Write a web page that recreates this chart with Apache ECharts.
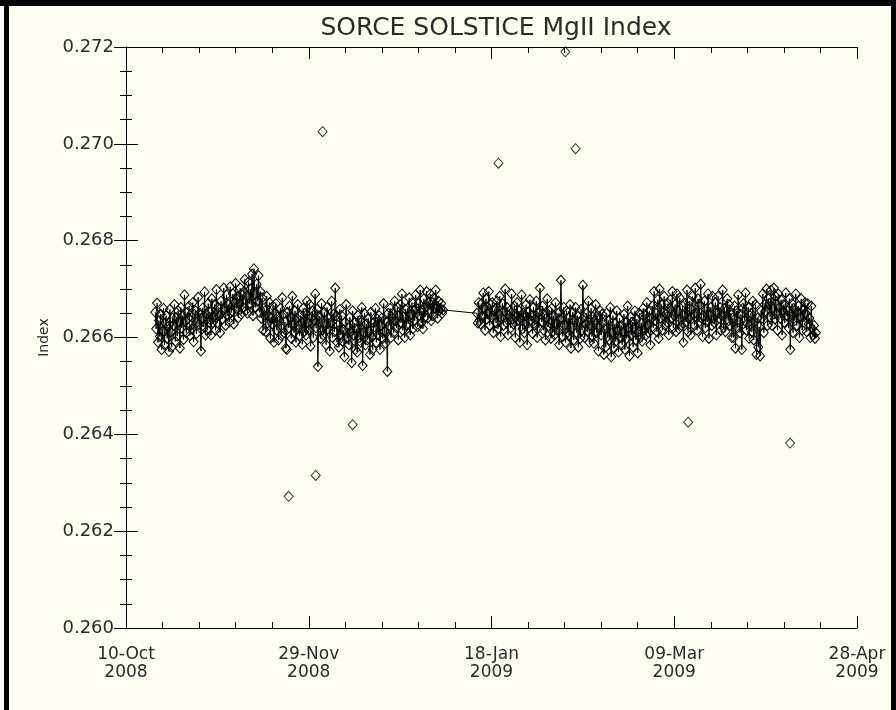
<!DOCTYPE html>
<html><head><meta charset="utf-8">
<script src="https://cdn.jsdelivr.net/npm/echarts@6/dist/echarts.min.js"></script>
<style>html,body{margin:0;padding:0;background:#fff}#c{width:896px;height:710px}</style>
</head><body><div id="c"></div>
<script>
// x axis: days since 10-Oct-2008
const tickDays = [0, 50, 100, 150, 200];
const tickLabels = ['10-Oct\n2008', '29-Nov\n2008', '18-Jan\n2009', '09-Mar\n2009', '28-Apr\n2009'];
const perDay = 4;
// Segment A: 18-Oct-2008 (day 8) .. 04-Jan-2009 (day 86), 4 readings per day
const segAStart = 8;
const segA = [
.26652,.26618,.26671,.26590, .26635,.26602,.26648,.26575, .26612,.26660,.26585,.26630, .26645,.26598,.26622,.26571, .26658,.26612,.26580,.26640,
.26625,.26668,.26592,.26641, .26603,.26655,.26632,.26578, .26662,.26620,.26645,.26596, .26688,.26634,.26610,.26652, .26640,.26665,.26604,.26625,
.26618,.26672,.26591,.26648, .26655,.26608,.26632,.26683, .26627,.26650,.26572,.26640, .26661,.26622,.26694,.26605, .26648,.26615,.26670,.26632,
.26652,.26605,.26680,.26631, .26642,.26668,.26615,.26699, .26630,.26662,.26645,.26610, .26675,.26638,.26657,.26702, .26660,.26625,.26688,.26645,
.26668,.26632,.26705,.26651, .26655,.26690,.26628,.26672, .26712,.26660,.26684,.26641, .26670,.26702,.26648,.26688, .26662,.26695,.26720,.26655,
.26685,.26650,.26715,.26670, .26700,.26668,.26731,.26645, .26742,.26690,.26662,.26710, .26675,.26728,.26652,.26695, .26640,.26682,.26615,.26660,
.26655,.26612,.26685,.26630, .26645,.26672,.26598,.26640, .26628,.26665,.26590,.26650, .26670,.26615,.26642,.26595, .26635,.26660,.26604,.26682,
.26648,.26610,.26632,.26578, .26575,.26652,.26620,.26665, .26642,.26598,.26685,.26625, .26610,.26655,.26590,.26640, .26668,.26625,.26604,.26645,
.26632,.26586,.26660,.26612, .26650,.26605,.26675,.26630, .26615,.26668,.26582,.26642, .26655,.26600,.26635,.26690, .26620,.26658,.26540,.26645,
.26640,.26598,.26670,.26615, .26605,.26652,.26625,.26585, .26662,.26618,.26640,.26572, .26630,.26675,.26600,.26648, .26612,.26702,.26645,.26590,
.26625,.26580,.26658,.26605, .26645,.26592,.26615,.26560, .26632,.26668,.26598,.26620, .26585,.26642,.26612,.26548, .26655,.26605,.26630,.26575,
.26618,.26570,.26645,.26600, .26635,.26590,.26662,.26542, .26610,.26650,.26585,.26628, .26595,.26640,.26612,.26565, .26652,.26602,.26575,.26630,
.26622,.26660,.26590,.26638, .26605,.26645,.26575,.26625, .26640,.26598,.26670,.26612, .26588,.26632,.26530,.26650, .26625,.26660,.26600,.26642,
.26650,.26610,.26675,.26635, .26620,.26662,.26595,.26645, .26668,.26630,.26690,.26615, .26642,.26600,.26658,.26625, .26660,.26628,.26682,.26605,
.26648,.26672,.26618,.26655, .26635,.26688,.26660,.26622, .26670,.26645,.26698,.26630, .26655,.26618,.26680,.26642, .26662,.26695,.26640,.26672,
.26658,.26690,.26635,.26672, .26645,.26682,.26660,.26698, .26665,.26640,.26675,.26655, .26660,.26670,.26650,.26657
];
// Segment B: 14-Jan-2009 (day 96) .. 16-Apr-2009 (day 188)
const segBStart = 96;
const segB = [
.26650,.26630,.26672,.26635, .26628,.26670,.26645,.26692, .26660,.26615,.26680,.26638, .26650,.26695,.26625,.26668, .26642,.26672,.26610,.26655,
.26660,.26630,.26675,.26618, .26648,.26685,.26602,.26640, .26670,.26625,.26655,.26700, .26632,.26662,.26605,.26645, .26655,.26620,.26690,.26638,
.26628,.26665,.26600,.26642, .26672,.26635,.26655,.26590, .26640,.26688,.26618,.26650, .26610,.26645,.26668,.26585, .26652,.26620,.26678,.26635,
.26645,.26608,.26662,.26625, .26638,.26675,.26600,.26650, .26620,.26702,.26655,.26632, .26665,.26615,.26648,.26595, .26640,.26680,.26622,.26655,
.26630,.26598,.26660,.26612, .26645,.26605,.26672,.26628, .26615,.26650,.26585,.26638, .26718,.26640,.26602,.26662, .26625,.26590,.26655,.26610,
.26640,.26605,.26668,.26578, .26620,.26652,.26595,.26635, .26662,.26610,.26645,.26580, .26632,.26598,.26658,.26615, .26708,.26642,.26600,.26628,
.26650,.26612,.26675,.26590, .26625,.26660,.26602,.26642, .26588,.26635,.26668,.26610, .26645,.26572,.26620,.26655, .26605,.26648,.26630,.26565,
.26618,.26580,.26650,.26602, .26635,.26595,.26662,.26560, .26610,.26645,.26578,.26628, .26592,.26655,.26615,.26570, .26640,.26600,.26625,.26585,
.26612,.26648,.26575,.26630, .26598,.26665,.26620,.26562, .26642,.26605,.26632,.26580, .26620,.26655,.26595,.26638, .26568,.26612,.26650,.26600,
.26630,.26592,.26660,.26615, .26648,.26605,.26672,.26625, .26610,.26655,.26585,.26640, .26665,.26620,.26695,.26635, .26650,.26612,.26678,.26598,
.26700,.26640,.26668,.26615, .26655,.26685,.26625,.26648, .26632,.26670,.26605,.26660, .26678,.26640,.26695,.26620, .26645,.26668,.26612,.26690,
.26655,.26618,.26682,.26638, .26625,.26665,.26590,.26645, .26670,.26632,.26698,.26612, .26640,.26675,.26605,.26658, .26685,.26648,.26625,.26702,
.26650,.26615,.26680,.26632, .26668,.26710,.26640,.26602, .26645,.26675,.26620,.26658, .26632,.26690,.26598,.26648, .26662,.26625,.26685,.26640,
.26630,.26672,.26605,.26650, .26685,.26640,.26662,.26615, .26645,.26698,.26620,.26660, .26612,.26655,.26680,.26635, .26668,.26625,.26650,.26600,
.26640,.26600,.26665,.26578, .26655,.26620,.26688,.26632, .26610,.26648,.26575,.26660, .26670,.26635,.26692,.26615, .26628,.26662,.26598,.26645,
.26650,.26612,.26675,.26595, .26632,.26668,.26565,.26640, .26580,.26622,.26562,.26655, .26640,.26690,.26610,.26668, .26655,.26700,.26625,.26680,
.26670,.26642,.26698,.26625, .26660,.26702,.26638,.26685, .26650,.26615,.26690,.26662, .26640,.26678,.26605,.26655, .26668,.26630,.26692,.26645,
.26655,.26620,.26680,.26575, .26648,.26670,.26610,.26660, .26635,.26690,.26625,.26652, .26665,.26600,.26642,.26680, .26615,.26658,.26632,.26672,
.26650,.26612,.26670,.26628, .26640,.26600,.26665,.26618, .26605,.26625,.26598,.26610
];
// Isolated outlying readings
const outDays = [44.5, 51.9, 53.8, 62.0, 101.9, 120.2, 123.0, 153.8, 181.7];
const outVals = [0.26272, 0.26315, 0.27025, 0.26420, 0.26960, 0.27190, 0.26990, 0.26425, 0.26382];

const BG = '#fffff0';
function buildPoints(seg, start) {
  return seg.map((v, i) => [start + Math.floor(i / perDay) + (i % perDay) / perDay, v]);
}
const core = buildPoints(segA, segAStart).concat(buildPoints(segB, segBStart));
const outliers = outDays.map((d, i) => [d, outVals[i]]);

const font = 'DejaVu Sans';
const tc = '#2a2a2a';
const hollow = { color: 'rgba(0,0,0,0)', borderColor: '#000', borderWidth: 1 };
const xCommon = {
  type: 'value', min: 0, max: 200, interval: 50,
  axisLine: { show: true, lineStyle: { color: '#000', width: 1 } },
  axisTick: { show: true, inside: true, length: 12, lineStyle: { color: '#000' } },
  minorTick: { show: true, splitNumber: 5, length: 6, lineStyle: { color: '#000' } },
  splitLine: { show: false }, minorSplitLine: { show: false }
};
const yCommon = {
  type: 'value', min: 0.260, max: 0.272, interval: 0.002,
  axisLine: { show: true, lineStyle: { color: '#000', width: 1 } },
  axisTick: { show: true, inside: true, length: 12, lineStyle: { color: '#000' } },
  minorTick: { show: true, splitNumber: 4, length: 6, lineStyle: { color: '#000' } },
  splitLine: { show: false }, minorSplitLine: { show: false }
};

const chart = echarts.init(document.getElementById('c'), null, { renderer: 'canvas' });
chart.setOption({
  animation: false,
  backgroundColor: BG,
  title: {
    text: 'SORCE SOLSTICE MgII Index', left: 491, top: 11, textAlign: 'center',
    textStyle: { fontFamily: font, fontSize: 25, fontWeight: 'normal', color: tc }
  },
  grid: { left: 126, right: 39, top: 47, bottom: 82 },
  xAxis: [
    Object.assign({}, xCommon, {
      position: 'bottom',
      axisLabel: {
        show: true, margin: 18, showMinLabel: true, showMaxLabel: true,
        fontFamily: font, fontSize: 17, color: tc, lineHeight: 18, align: 'center',
        formatter: v => { const k = tickDays.indexOf(Math.round(v)); return k >= 0 ? tickLabels[k] : ''; }
      }
    }),
    Object.assign({}, xCommon, { position: 'top', axisLabel: { show: false } })
  ],
  yAxis: [
    Object.assign({}, yCommon, {
      position: 'left',
      name: 'Index', nameLocation: 'middle', nameGap: 73, nameRotate: 90,
      nameTextStyle: { fontFamily: font, fontSize: 14, color: tc },
      axisLabel: {
        show: true, margin: 12, showMinLabel: true, showMaxLabel: true,
        fontFamily: font, fontSize: 18, color: tc,
        formatter: v => v.toFixed(3)
      }
    }),
    Object.assign({}, yCommon, { position: 'right', axisLabel: { show: false } })
  ],
  series: [
    {
      type: 'line', data: core, xAxisIndex: 0, yAxisIndex: 0,
      symbol: 'diamond', symbolSize: [9, 10], showSymbol: true, showAllSymbol: true,
      itemStyle: hollow, lineStyle: { color: '#000', width: 1 }, silent: true, z: 2
    },
    {
      type: 'scatter', data: outliers, xAxisIndex: 0, yAxisIndex: 0,
      symbol: 'diamond', symbolSize: [9, 10], itemStyle: hollow, silent: true, z: 3
    }
  ],
  graphic: [
    { type: 'rect', shape: { x: 0, y: 0, width: 4, height: 710 }, style: { fill: '#fff' }, z: 100 },
    { type: 'rect', shape: { x: 4, y: 0, width: 5, height: 710 }, style: { fill: '#000' }, z: 100 },
    { type: 'rect', shape: { x: 0, y: 0, width: 896, height: 6 }, style: { fill: '#000' }, z: 100 },
    { type: 'rect', shape: { x: 891, y: 0, width: 5, height: 710 }, style: { fill: '#000' }, z: 100 }
  ]
});
</script></body></html>
